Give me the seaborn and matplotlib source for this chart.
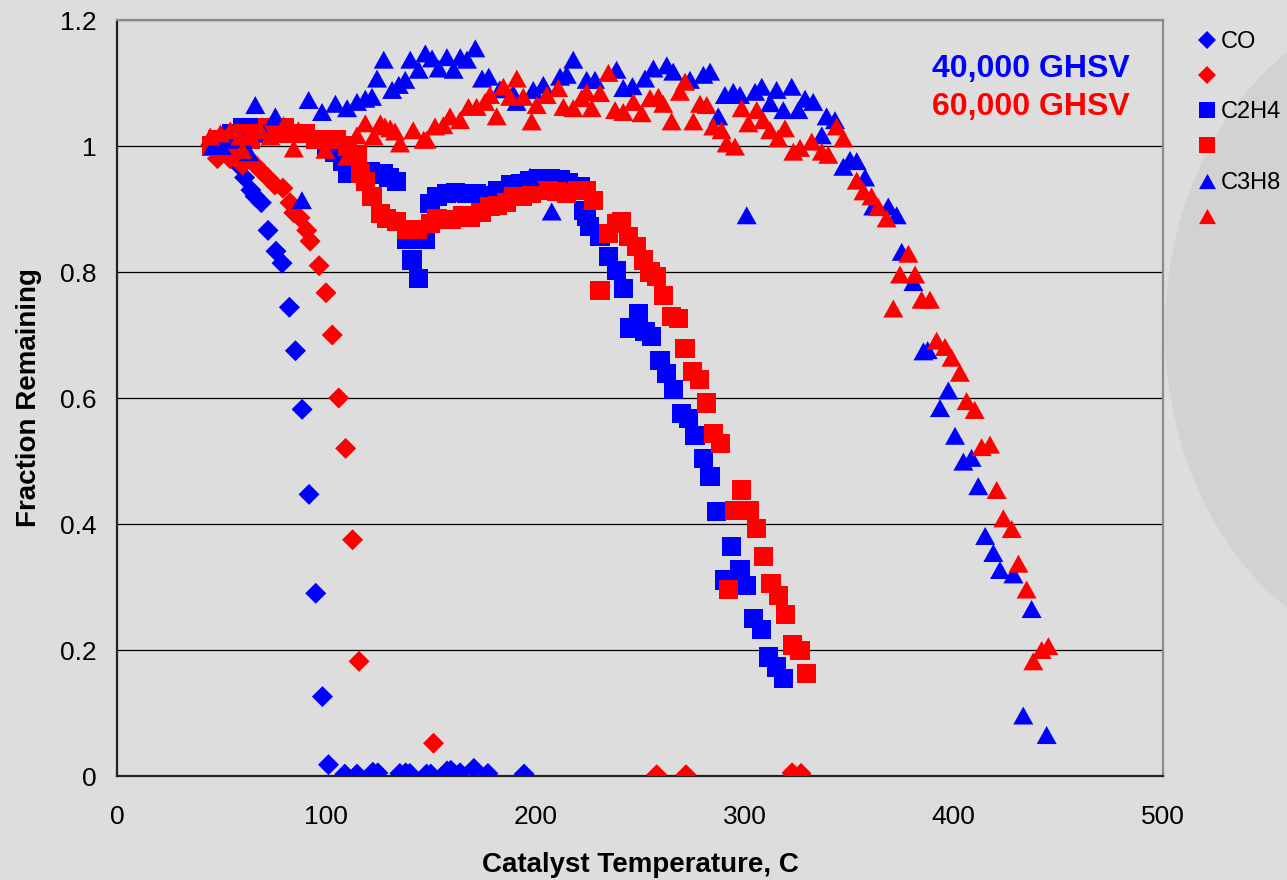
import numpy as np
import matplotlib
matplotlib.use("Agg")
import matplotlib.pyplot as plt
import seaborn as sns
from matplotlib.path import Path
from matplotlib.lines import Line2D
from matplotlib.patches import Ellipse
from matplotlib.ticker import MultipleLocator, FixedLocator, FixedFormatter

# ---------------- data ----------------
co40_t = [45, 48, 52, 55, 58, 61, 64, 66, 69, 72.2, 76, 78.9, 82.4, 85.3, 88.5, 91.8, 95, 98.2, 101.1,
          108.9, 114.7, 122.3, 124.7, 135.2, 138, 140, 148, 150, 157.8, 159.6, 164, 170.6, 177.3, 194.6]
co40_y = [1.0, 0.99, 0.99, 0.98, 0.97, 0.95, 0.93, 0.92, 0.91, 0.866, 0.833, 0.814, 0.744, 0.675, 0.582,
          0.447, 0.29, 0.126, 0.018, 0.003, 0.003, 0.006, 0.005, 0.004, 0.005, 0.004, 0.003, 0.003, 0.008,
          0.009, 0.005, 0.012, 0.004, 0.003]

co60_t = [45, 48, 51, 54, 57, 60, 63, 66, 69, 72, 75.5, 79.3, 82.7, 84.5, 87.5, 90.7, 92.3, 96.6, 99.9,
          102.9, 106, 109.3, 112.6, 115.7, 151.3, 258, 272, 322.7, 327]
co60_y = [1.0, 0.98, 0.99, 0.98, 0.98, 0.97, 0.98, 0.97, 0.96, 0.95, 0.938, 0.933, 0.91, 0.894, 0.886,
          0.866, 0.849, 0.81, 0.767, 0.70, 0.60, 0.52, 0.375, 0.182, 0.052, 0.002, 0.002, 0.005, 0.004]

c2h4_40_t = [45, 50, 55, 60, 65, 70, 75, 80, 85, 90, 95, 100, 104, 108, 110, 113, 117, 121, 125, 127.5,
             130, 133.8, 138.6, 141, 144.2, 147.4, 149.6, 153, 157.6, 162, 167.2, 172, 176.7, 182, 188,
             193, 197.4, 202.2, 207, 211.8, 216, 221.3, 222.9, 224.5, 226, 230.9, 234.8, 238.8, 242,
             245.2, 249.2, 252.4, 255.6, 259.6, 262.8, 265.9, 269.9, 273.1, 276.3, 280.3, 283.5, 286.7,
             290.6, 293.8, 297.8, 301, 304.2, 308.2, 311.3, 315.3, 318.5]
c2h4_40_y = [1.0, 1.01, 1.02, 1.03, 1.03, 1.02, 1.02, 1.03, 1.02, 1.02, 1.01, 1.0, 0.99, 0.975, 0.957,
             0.97, 0.96, 0.96, 0.955, 0.957, 0.95, 0.943, 0.851, 0.819, 0.79, 0.851, 0.909, 0.92, 0.925,
             0.926, 0.925, 0.924, 0.922, 0.93, 0.938, 0.94, 0.945, 0.949, 0.948, 0.946, 0.942, 0.936,
             0.898, 0.888, 0.872, 0.856, 0.824, 0.803, 0.774, 0.711, 0.734, 0.705, 0.697, 0.66, 0.639,
             0.613, 0.576, 0.568, 0.541, 0.504, 0.475, 0.42, 0.311, 0.364, 0.327, 0.303, 0.25, 0.232,
             0.189, 0.173, 0.155]

c2h4_60_t = [45, 48, 52, 56, 60, 64, 68, 72, 76, 80, 85, 90, 95, 100, 105, 110, 114.7, 116.3, 118.7,
             121.9, 125.9, 129, 133.8, 138.6, 143.4, 149.8, 153, 156.2, 160, 165, 169, 174, 178.3, 182,
             186, 189.4, 194, 198, 202.2, 206, 210, 214.9, 220, 224.5, 227.7, 230.9, 234.9, 238.8, 241,
             244.4, 248.4, 251.6, 254.8, 258, 261.1, 265.1, 268.3, 271.5, 275.1, 278.3, 281.8, 285,
             288.5, 292.2, 295.4, 298.6, 302.1, 305.8, 308.9, 312.6, 316.1, 319.5, 322.9, 326.5, 329.7]
c2h4_60_y = [1.0, 1.01, 1.0, 1.01, 1.02, 1.01, 1.02, 1.03, 1.02, 1.03, 1.02, 1.02, 1.01, 1.01, 1.01,
             1.0, 0.986, 0.956, 0.943, 0.92, 0.893, 0.885, 0.88, 0.867, 0.867, 0.877, 0.885, 0.883,
             0.883, 0.89, 0.886, 0.895, 0.904, 0.905, 0.91, 0.92, 0.92, 0.925, 0.93, 0.93, 0.928, 0.925,
             0.93, 0.93, 0.914, 0.771, 0.861, 0.877, 0.88, 0.856, 0.84, 0.819, 0.80, 0.793, 0.763,
             0.729, 0.726, 0.679, 0.642, 0.629, 0.592, 0.544, 0.528, 0.296, 0.422, 0.454, 0.422, 0.393,
             0.349, 0.306, 0.287, 0.257, 0.208, 0.199, 0.163]

c3h8_40_t = [46, 50, 55, 60, 63, 66.1, 70, 75.7, 88.4, 91.6, 98, 104.4, 110, 114.7, 118.7, 121.9, 124.3,
             127.5, 131.5, 134.7, 137.8, 140.2, 144.2, 147.4, 150.6, 153.8, 157.7, 160.9, 164.1, 167.3,
             171.3, 174.5, 177.7, 183, 189.4, 191, 197.4, 199, 203.8, 207.8, 211.8, 215, 218.1, 224.5,
             228.5, 238.8, 242, 246.4, 252.4, 256.4, 262.8, 265.9, 273.9, 280.3, 283.5, 287.4, 290.6,
             294.6, 297.8, 301, 305, 308.2, 312.2, 315.3, 318.5, 322.5, 325.7, 328.9, 332.8, 336.9,
             339.2, 343.2, 347.2, 350.4, 353.6, 357.6, 361.5, 368.7, 372.7, 375.1, 380.7, 385.5, 387.5,
             393.4, 397.4, 400.6, 404.6, 408.5, 411.7, 415, 418.9, 422.1, 428.5, 433.2, 437.2, 444.4]
c3h8_40_y = [1.0, 1.0, 1.01, 1.01, 0.99, 1.065, 1.02, 1.047, 0.914, 1.073, 1.054, 1.067, 1.06, 1.07,
             1.075, 1.078, 1.107, 1.137, 1.089, 1.097, 1.105, 1.137, 1.121, 1.147, 1.139, 1.123, 1.141,
             1.121, 1.141, 1.137, 1.155, 1.107, 1.11, 1.09, 1.083, 1.07, 0.951, 1.089, 1.097, 0.896,
             1.11, 1.113, 1.137, 1.105, 1.105, 1.121, 1.092, 1.095, 1.107, 1.123, 1.128, 1.118, 1.105,
             1.113, 1.118, 1.047, 1.081, 1.086, 1.081, 0.89, 1.086, 1.094, 1.068, 1.089, 1.057, 1.094,
             1.057, 1.075, 1.07, 1.017, 1.047, 1.041, 0.967, 0.978, 0.976, 0.95, 0.904, 0.904, 0.89,
             0.832, 0.784, 0.674, 0.676, 0.584, 0.612, 0.54, 0.499, 0.505, 0.46, 0.381, 0.354, 0.327,
             0.32, 0.096, 0.265, 0.065]

c3h8_60_t = [44.6, 49.4, 54.2, 58.9, 60, 63.7, 68.5, 73.3, 79.7, 84.5, 86.7, 92.4, 99.6, 103.6, 110,
             114.7, 118.7, 122.7, 125.9, 128.1, 130.6, 132.9, 135.3, 141.6, 146.6, 148, 152, 156, 159.2,
             164, 168, 171.9, 175.9, 178.3, 181.5, 184.7, 187.9, 191.1, 194.2, 198.2, 200.6, 205.4,
             210.9, 213.4, 218.1, 222.1, 224.5, 226.9, 230.9, 234.9, 238.1, 242, 246.8, 250.8, 254.8,
             258.8, 261.1, 265.1, 269.1, 271.5, 275.5, 278.7, 281.9, 285, 289, 291.4, 295.4, 298.6,
             301.8, 305.8, 308.9, 312.2, 316.1, 319.3, 323.3, 326.5, 332.1, 336.9, 340, 344, 347.2,
             353.6, 356.8, 360.7, 363.9, 367.9, 371.1, 374.3, 378.3, 381.5, 384.6, 388.6, 391.8, 395.8,
             398.9, 402.9, 406.1, 410, 413.3, 417.3, 420.5, 423.7, 427.7, 430.9, 434.8, 438, 442, 445.2]
c3h8_60_y = [1.015, 1.02, 1.025, 1.015, 0.994, 1.017, 1.025, 1.015, 1.033, 0.996, 1.025, 1.02, 0.994,
             1.01, 0.983, 1.017, 1.036, 1.015, 1.036, 1.031, 1.028, 1.023, 1.004, 1.025, 1.01, 1.01,
             1.031, 1.033, 1.047, 1.041, 1.062, 1.062, 1.07, 1.081, 1.047, 1.094, 1.078, 1.107, 1.078,
             1.039, 1.065, 1.081, 1.092, 1.062, 1.06, 1.076, 1.085, 1.06, 1.084, 1.116, 1.057, 1.054,
             1.07, 1.052, 1.076, 1.078, 1.067, 1.039, 1.086, 1.102, 1.039, 1.067, 1.065, 1.031, 1.025,
             1.004, 0.999, 1.06, 1.036, 1.057, 1.041, 1.025, 1.012, 1.028, 0.991, 0.997, 1.007, 0.991,
             0.986, 1.031, 1.012, 0.945, 0.928, 0.92, 0.903, 0.885, 0.742, 0.796, 0.829, 0.796, 0.756,
             0.756, 0.691, 0.681, 0.664, 0.64, 0.595, 0.581, 0.522, 0.526, 0.454, 0.409, 0.392, 0.337,
             0.296, 0.182, 0.2, 0.206]

x_ticks = [0, 100, 200, 300, 400, 500]
y_ticks = [0, 0.2, 0.4, 0.6, 0.8, 1.0, 1.2]
y_tick_labels = ["0", "0.2", "0.4", "0.6", "0.8", "1", "1.2"]
legend_labels = ["CO", "", "C2H4", "", "C3H8", ""]
annot_labels = ["40,000 GHSV", "60,000 GHSV"]

BLUE = "#0000FF"
RED = "#FF0000"
BG = "#DDDDDD"

# ---------------- style ----------------
sns.set_style("white")
plt.rcParams["font.family"] = ["Liberation Sans", "DejaVu Sans"]
plt.rcParams["text.color"] = "black"
plt.rcParams["axes.labelcolor"] = "black"
plt.rcParams["xtick.color"] = "black"
plt.rcParams["ytick.color"] = "black"

fig = plt.figure(figsize=(12.87, 8.80), dpi=100)
fig.patch.set_facecolor(BG)
# decorative background ellipse on the right
fig.add_artist(Ellipse((1430 / 1287, 1 - 330 / 880), width=530 / 1287, height=660 / 880,
                       transform=fig.transFigure, facecolor="#D2D2D2", edgecolor="none", zorder=-5))

ax = fig.add_axes([117 / 1287, 1 - 776 / 880, (1163 - 117) / 1287, (776 - 20) / 880])
ax.set_facecolor(BG)
ax.set_zorder(1)

tri = Path([(-1, -0.9), (1, -0.9), (0, 0.9), (-1, -0.9)],
           [Path.MOVETO, Path.LINETO, Path.LINETO, Path.CLOSEPOLY])

series = [
    (co40_t, co40_y, "D", BLUE, 10.7 ** 2),
    (co60_t, co60_y, "D", RED, 10.7 ** 2),
    (c2h4_40_t, c2h4_40_y, "s", BLUE, 13.8 ** 2),
    (c2h4_60_t, c2h4_60_y, "s", RED, 13.8 ** 2),
    (c3h8_40_t, c3h8_40_y, tri, BLUE, 14.4 ** 2),
    (c3h8_60_t, c3h8_60_y, tri, RED, 14.4 ** 2),
]
for i, (xs, ys, mk, col, sz) in enumerate(series):
    sns.scatterplot(x=xs, y=ys, marker=mk, color=col, s=sz, edgecolor="none", linewidth=0,
                    ax=ax, zorder=3 + i, legend=False)

ax.set_xlim(0, 500)
ax.set_ylim(0, 1.2)
ax.xaxis.set_major_locator(FixedLocator(x_ticks))
ax.xaxis.set_minor_locator(MultipleLocator(20))
ax.yaxis.set_major_locator(FixedLocator(y_ticks))
ax.yaxis.set_major_formatter(FixedFormatter(y_tick_labels))
ax.yaxis.set_minor_locator(MultipleLocator(0.04))

ax.tick_params(which="major", direction="inout", length=12, width=1.3, colors="#222222",
               labelsize=19, labelcolor="black")
ax.tick_params(axis="x", which="major", pad=15)
ax.tick_params(axis="y", which="major", pad=9)
ax.tick_params(which="minor", direction="in", length=5, width=1.1, colors="#222222")
ax.tick_params(top=False, right=False, which="both")

ax.yaxis.grid(True, which="major", color="black", linewidth=0.9)
ax.set_axisbelow(True)

for side in ["left", "bottom"]:
    ax.spines[side].set_color("#222222")
    ax.spines[side].set_linewidth(1.6)
for side in ["top", "right"]:
    ax.spines[side].set_color("#8C8C8C")
    ax.spines[side].set_linewidth(1.6)

ax.set_xlabel("Catalyst Temperature, C", fontsize=20, fontweight="bold", color="black")
ax.set_ylabel("Fraction Remaining", fontsize=20, fontweight="bold", color="black")
ax.xaxis.set_label_coords(0.5, -0.1)
ax.yaxis.set_label_coords(-0.0717, 0.5)

ax.text(0.779, 0.925, annot_labels[0], transform=ax.transAxes, color=BLUE, fontsize=23,
        fontweight="bold", ha="left", va="baseline")
ax.text(0.779, 0.874, annot_labels[1], transform=ax.transAxes, color=RED, fontsize=23,
        fontweight="bold", ha="left", va="baseline")

# legend
handles = [
    Line2D([], [], linestyle="none", marker="D", color=BLUE, markeredgewidth=0, markersize=8.7),
    Line2D([], [], linestyle="none", marker="D", color=RED, markeredgewidth=0, markersize=8.7),
    Line2D([], [], linestyle="none", marker="s", color=BLUE, markeredgewidth=0, markersize=12.2),
    Line2D([], [], linestyle="none", marker="s", color=RED, markeredgewidth=0, markersize=12.2),
    Line2D([], [], linestyle="none", marker=tri, color=BLUE, markeredgewidth=0, markersize=12.2),
    Line2D([], [], linestyle="none", marker=tri, color=RED, markeredgewidth=0, markersize=12.2),
]
leg = fig.legend(handles, legend_labels, loc="upper left", bbox_to_anchor=(1198.7 / 1287, 1 - 31 / 880),
                 frameon=False, fontsize=17, handlelength=0.7, handletextpad=0.25, borderpad=0,
                 borderaxespad=0, labelspacing=0.56, handleheight=0.7)
for t in leg.get_texts():
    t.set_color("black")

fig.savefig("out.png", dpi=100, facecolor=BG)
